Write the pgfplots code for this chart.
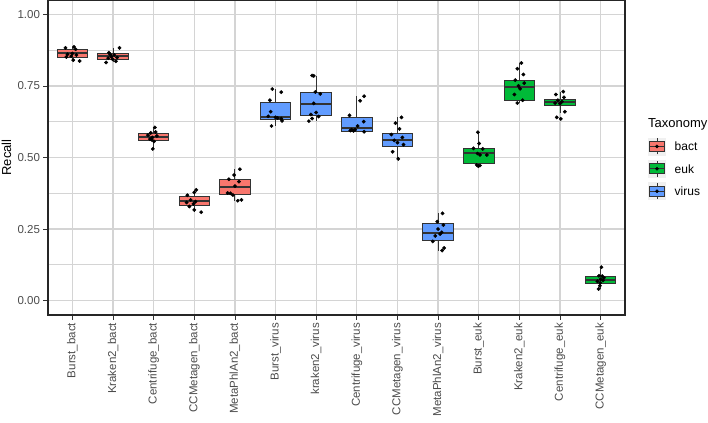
\documentclass[border=0pt]{standalone}
\usepackage{fontspec}
\setmainfont{Liberation Sans}
\usepackage{pgfplots}
\pgfplotsset{compat=1.18}
\usepgfplotslibrary{statistics}

\definecolor{bactc}{HTML}{F8766D}
\definecolor{eukc}{HTML}{00BA38}
\definecolor{virc}{HTML}{619CFF}
\definecolor{gridc}{HTML}{D4D4D4}
\definecolor{boxl}{HTML}{333333}

% one box: position, lower whisker, lower quartile, median, upper quartile, upper whisker, fill
\newcommand{\bx}[7]{\addplot[forget plot, boxplot prepared={draw direction=y, draw position=#1,
  lower whisker=#2, lower quartile=#3, median=#4, upper quartile=#5,
  upper whisker=#6, box extend=0.75, whisker extend=0,
  every median/.style={line width=2pt}},
  fill=#7, draw=boxl, line width=0.9pt] coordinates {};}

\pgfplotsset{boxleg/.style={legend image code/.code={
  \fill[black!6] (0pt,-8.5pt) rectangle (17pt,8.5pt);
  \draw[boxl,line width=0.6pt] (8.5pt,-8pt) -- (8.5pt,8pt);
  \draw[boxl,line width=0.6pt,fill=#1] (0.8pt,-5pt) rectangle (16.2pt,5pt);
  \draw[boxl,line width=1.2pt] (0.8pt,0pt) -- (16.2pt,0pt);
  \fill[black] (8.5pt,0pt) circle (1.6pt);
}}}

\begin{document}
\begin{tikzpicture}
\begin{axis}[name=ax,
  scale only axis, width=577pt, height=315pt,
  xmin=-0.6, xmax=13.6, ymin=-0.05, ymax=1.05,
  xtick={0,...,13},
  xticklabels={Burst\_bact,Kraken2\_bact,Centrifuge\_bact,CCMetagen\_bact,MetaPhlAn2\_bact,
    Burst\_virus,kraken2\_virus,Centrifuge\_virus,CCMetagen\_virus,MetaPhlAn2\_virus,
    Burst\_euk,Kraken2\_euk,Centrifuge\_euk,CCMetagen\_euk},
  ytick={0,0.25,0.5,0.75,1}, yticklabels={0.00,0.25,0.50,0.75,1.00},
  minor ytick={0.125,0.375,0.625,0.875},
  xmajorgrids, ymajorgrids, yminorgrids,
  major grid style={gridc, line width=1.2pt},
  minor grid style={gridc, line width=0.9pt},
  tick align=outside, tick pos=left, major tick length=4.5pt, minor tick length=0pt,
  tick style={boxl, line width=0.8pt},
  axis line style={black!85, line width=1.3pt},
  ticklabel style={font=\fontsize{11.5}{12}\selectfont, text=black!70},
  xticklabel style={rotate=90, anchor=east},
  ylabel={Recall},
  ylabel style={font=\fontsize{13}{14}\selectfont, at={(axis description cs:-0.072,0.5)}, anchor=center},
  legend cell align=left,
  legend style={at={(axis description cs:1.04,0.5635)}, anchor=north west, draw=none, fill=none,
    font=\fontsize{12}{13}\selectfont, row sep=5pt, inner sep=0pt,
    nodes={inner sep=2pt, text height=9pt, text depth=0pt},
    /tikz/every odd column/.append style={column sep=7pt}},
]
\bx{0}{0.836}{0.848}{0.865}{0.877}{0.886}{bactc}
\bx{1}{0.832}{0.842}{0.855}{0.863}{0.883}{bactc}
\bx{2}{0.530}{0.559}{0.573}{0.584}{0.605}{bactc}
\bx{3}{0.309}{0.332}{0.348}{0.363}{0.387}{bactc}
\bx{4}{0.349}{0.370}{0.398}{0.422}{0.459}{bactc}
\bx{5}{0.610}{0.634}{0.642}{0.692}{0.739}{virc}
\bx{6}{0.627}{0.648}{0.686}{0.728}{0.786}{virc}
\bx{7}{0.588}{0.591}{0.604}{0.641}{0.714}{virc}
\bx{8}{0.495}{0.538}{0.561}{0.584}{0.640}{virc}
\bx{9}{0.175}{0.211}{0.238}{0.269}{0.305}{virc}
\bx{10}{0.470}{0.480}{0.515}{0.532}{0.588}{eukc}
\bx{11}{0.690}{0.700}{0.745}{0.770}{0.830}{eukc}
\bx{12}{0.655}{0.682}{0.693}{0.702}{0.730}{eukc}
\bx{13}{0.041}{0.059}{0.071}{0.085}{0.117}{eukc}

\addplot[forget plot, only marks, mark=*, mark size=1.7pt, black] coordinates {
(-0.17,0.883) (0.04,0.886) (0.08,0.878) (-0.12,0.860) (0.0,0.863) (0.02,0.840) (0.18,0.837) (-0.03,0.854) (-0.15,0.851) (0.10,0.858)
(0.9,0.866) (1.16,0.883) (0.83,0.832) (1.07,0.836) (0.96,0.852) (1.03,0.858) (0.88,0.847) (0.99,0.843) (1.1,0.849) (0.93,0.860)
(2.03,0.605) (1.93,0.586) (1.86,0.578) (1.97,0.570) (1.91,0.564) (2.01,0.556) (1.98,0.530) (2.05,0.589) (1.95,0.562) (2.08,0.575)
(3.05,0.387) (3.0,0.378) (2.83,0.368) (2.91,0.352) (3.03,0.346) (2.81,0.343) (2.98,0.338) (2.88,0.329) (3.0,0.317) (3.17,0.309)
(4.12,0.459) (3.98,0.439) (3.85,0.424) (4.1,0.416) (3.89,0.375) (3.95,0.369) (3.82,0.376) (4.07,0.349) (4.16,0.352) (4.0,0.400)
(4.92,0.739) (5.14,0.728) (4.86,0.700) (4.88,0.660) (4.82,0.644) (5.0,0.640) (5.14,0.636) (5.16,0.628) (4.9,0.610) (5.05,0.638)
(5.9,0.786) (5.94,0.785) (5.98,0.729) (6.1,0.722) (5.94,0.689) (6.0,0.657) (5.87,0.650) (6.06,0.643) (5.9,0.636) (5.82,0.627)
(7.18,0.714) (7.08,0.698) (6.82,0.647) (7.17,0.625) (6.87,0.597) (6.92,0.593) (6.96,0.597) (6.84,0.594) (7.18,0.590) (7.02,0.610)
(8.1,0.640) (7.95,0.620) (8.05,0.600) (7.85,0.580) (8.12,0.570) (7.92,0.560) (8.0,0.552) (8.15,0.545) (7.88,0.520) (8.02,0.495)
(9.11,0.305) (8.98,0.276) (9.13,0.264) (9.09,0.239) (9.05,0.233) (8.93,0.226) (8.87,0.207) (9.15,0.184) (9.1,0.175) (9.0,0.250)
(9.98,0.588) (10.01,0.549) (9.87,0.532) (10.1,0.530) (9.97,0.514) (10.03,0.509) (10.2,0.509) (9.95,0.474) (9.99,0.470) (10.03,0.472)
(11.05,0.830) (10.95,0.810) (11.1,0.790) (10.9,0.770) (11.12,0.760) (10.98,0.750) (11.02,0.740) (10.88,0.720) (11.08,0.700) (10.95,0.690)
(12.08,0.730) (11.9,0.720) (12.1,0.710) (11.95,0.700) (12.05,0.695) (11.88,0.690) (12.0,0.688) (12.12,0.660) (11.92,0.640) (12.02,0.635)
(13.02,0.117) (12.96,0.087) (13.04,0.086) (13.0,0.075) (13.06,0.071) (12.99,0.062) (12.98,0.052) (12.95,0.041) (13.08,0.080) (12.92,0.068)
};

\addlegendimage{boxleg=bactc}\addlegendentry{bact}
\addlegendimage{boxleg=eukc}\addlegendentry{euk}
\addlegendimage{boxleg=virc}\addlegendentry{virus}
\end{axis}
\node[anchor=west, inner sep=0pt, font=\fontsize{13}{14}\selectfont] at ([xshift=23pt,yshift=-124pt]ax.north east) {Taxonomy};
\pgfresetboundingbox
\path[use as bounding box] ([xshift=-48pt,yshift=-108pt]ax.south west) rectangle ([xshift=83pt]ax.north east);
\end{tikzpicture}
\end{document}
